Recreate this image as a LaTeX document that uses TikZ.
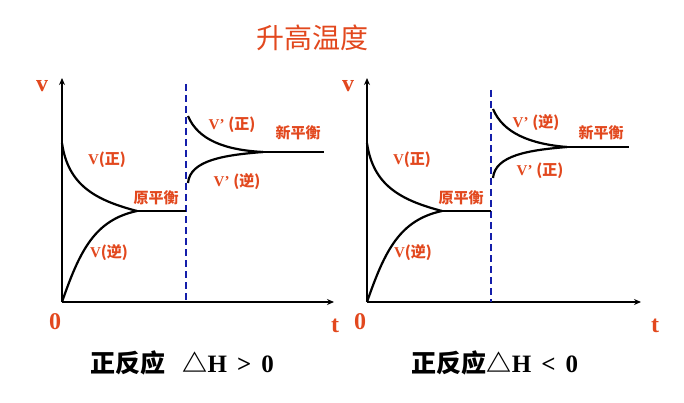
\documentclass[tikz,border=0pt]{standalone}
\usepackage{fontspec}
\setmainfont{Liberation Serif}
\newfontfamily\cjk{Noto Sans CJK SC}
\usetikzlibrary{arrows.meta}
\definecolor{labred}{RGB}{226,72,30}
\definecolor{dashblue}{RGB}{20,30,170}
\newcommand{\zh}[1]{{\cjk #1}}

\begin{document}
\begin{tikzpicture}[x=1pt, y=-1pt]
        % styles
        \tikzset{
            axis/.style={line width=2.2pt, black, -{Stealth[open,length=7pt,width=6pt]}},
            curve/.style={line width=2.2pt, black},
            split/.style={line width=2.2pt, dashblue, dash pattern=on 7pt off 4pt},
            lab/.style={text=labred, font=\bfseries\fontsize{15}{15}\selectfont, inner sep=1pt},
            axlab/.style={text=labred, font=\bfseries\fontsize{24}{24}\selectfont, inner sep=0pt},
            caption/.style={font=\bfseries\fontsize{25}{25}\selectfont, inner sep=0pt}
        }
        \useasboundingbox (0,0) rectangle (684,403);

        \node[text=labred, font=\cjk\fontsize{28}{28}\selectfont] (title) at (312,38) {升高温度};

        % ================= left: dH > 0 =================
        \coordinate (o1) at (62,302);
        \coordinate (ytop1) at (62,78);
        \coordinate (xend1) at (334,302);
        \draw[axis] (o1) -- (ytop1);
        \draw[axis] (o1) -- (xend1);
        \coordinate (dtop1) at (186,84);
        \coordinate (dbot1) at (186,302);
        \draw[split] (dtop1) -- (dbot1);

        \coordinate (fs1) at (62,143);
        \coordinate (eq1) at (137,211);
        \coordinate (eqend1) at (186,211);
        \draw[curve] (fs1) .. controls (68,185) and (95,200) .. (eq1);
        \draw[curve] (o1) .. controls (80,250) and (95,220) .. (eq1);
        \draw[curve] (eq1) -- (eqend1);

        \coordinate (nf1) at (188,116);
        \coordinate (nr1) at (188,183);
        \coordinate (neq1) at (263,152);
        \coordinate (neqend1) at (324,152);
        \draw[curve] (nf1) .. controls (198,140) and (225,150) .. (neq1);
        \draw[curve] (nr1) .. controls (190,160) and (225,155) .. (neq1);
        \draw[curve] (neq1) -- (neqend1);

        \node[axlab] (v1) at (42,86) {v};
        \node[axlab] (zero1) at (55,322) {0};
        \node[axlab] (t1) at (335,326) {t};
        \node[lab] (lf1) at (107,160) {V\zh{(正)}};
        \node[lab] (lr1) at (109,253) {V\zh{(逆)}};
        \node[lab] (leq1) at (156,198) {\zh{原平衡}};
        \node[lab] (lnf1) at (232,125) {V' \zh{(正)}};
        \node[lab] (lnr1) at (237,182) {V' \zh{(逆)}};
        \node[lab] (lneq1) at (298,133) {\zh{新平衡}};
        \node[caption] (cap1) at (182,363) {\zh{正反应}\hspace{0.7em}\zh{△}H\hspace{0.4em}>\hspace{0.4em}0};

        % ================= right: dH < 0 =================
        \coordinate (o2) at (367,302);
        \coordinate (ytop2) at (367,78);
        \coordinate (xend2) at (641,302);
        \draw[axis] (o2) -- (ytop2);
        \draw[axis] (o2) -- (xend2);
        \coordinate (dtop2) at (491,90);
        \coordinate (dbot2) at (491,302);
        \draw[split] (dtop2) -- (dbot2);

        \coordinate (fs2) at (367,143);
        \coordinate (eq2) at (442,211);
        \coordinate (eqend2) at (491,211);
        \draw[curve] (fs2) .. controls (373,185) and (400,200) .. (eq2);
        \draw[curve] (o2) .. controls (385,250) and (400,220) .. (eq2);
        \draw[curve] (eq2) -- (eqend2);

        \coordinate (nr2) at (493,109);
        \coordinate (nf2) at (493,178);
        \coordinate (neq2) at (567,147);
        \coordinate (neqend2) at (629,147);
        \draw[curve] (nr2) .. controls (503,133) and (530,144) .. (neq2);
        \draw[curve] (nf2) .. controls (495,155) and (530,150) .. (neq2);
        \draw[curve] (neq2) -- (neqend2);

        \node[axlab] (v2) at (348,86) {v};
        \node[axlab] (zero2) at (360,322) {0};
        \node[axlab] (t2) at (655,326) {t};
        \node[lab] (lf2) at (412,160) {V\zh{(正)}};
        \node[lab] (lr2) at (413,253) {V\zh{(逆)}};
        \node[lab] (leq2) at (461,198) {\zh{原平衡}};
        \node[lab] (lnr2) at (536,123) {V' \zh{(逆)}};
        \node[lab] (lnf2) at (540,171) {V' \zh{(正)}};
        \node[lab] (lneq2) at (601,133) {\zh{新平衡}};
        \node[caption] (cap2) at (495,363) {\zh{正反应△}H\hspace{0.4em}<\hspace{0.4em}0};
\end{tikzpicture}
\end{document}
